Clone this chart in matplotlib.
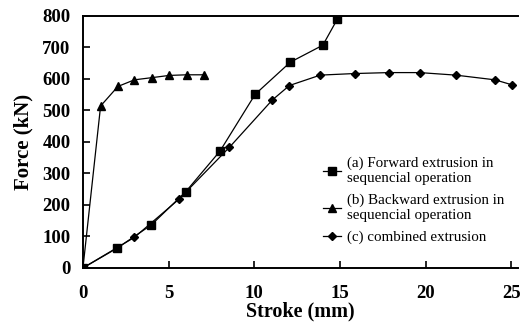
import matplotlib.pyplot as plt

plt.rcParams['font.family'] = ['Liberation Serif', 'DejaVu Serif']

# (a) forward extrusion in sequencial operation
fwd_x = [0, 2, 4, 6, 8, 10.05, 12.1, 14.0, 14.85]
fwd_y = [0, 63, 137, 242, 371, 551, 653, 707, 790]

# (b) backward extrusion in sequencial operation
bwd_x = [0, 1.03, 2.04, 3.0, 4.03, 5.03, 6.05, 7.06]
bwd_y = [0, 514, 576, 597, 604, 611, 613, 613]

# (c) combined extrusion
comb_x = [0, 3.0, 5.6, 8.55, 11.05, 12.05, 13.85, 15.85, 17.85, 19.65, 21.75, 24.05, 25.05]
comb_y = [0, 97, 218, 383, 533, 579, 612, 617, 620, 620, 612, 597, 581]

fig = plt.figure(figsize=(5.25, 3.24), dpi=100)
ax = fig.add_axes([0.158, 0.173, 0.829, 0.778])

ax.plot(fwd_x, fwd_y, color="black", lw=0.9, marker="s", ms=6,
        label="(a) Forward extrusion in\nsequencial operation")
ax.plot(bwd_x, bwd_y, color="black", lw=0.9, marker="^", ms=6,
        label="(b) Backward extrusion in\nsequencial operation")
ax.plot(comb_x, comb_y, color="black", lw=0.9, marker="D", ms=4.5,
        label="(c) combined extrusion")

ax.set_xlim(0, 25.4)
ax.set_ylim(0, 800)
ax.set_xticks([0, 5, 10, 15, 20, 25])
ax.set_yticks(range(0, 801, 100))
ax.tick_params(direction="in", length=5, width=1.2, labelsize=13.5)
ax.tick_params(axis="x", pad=12)
ax.tick_params(axis="y", pad=9)
for lbl in ax.get_xticklabels() + ax.get_yticklabels():
    lbl.set_fontweight("bold")
ax.spines["right"].set_visible(False)
for s in ["left", "bottom", "top"]:
    ax.spines[s].set_linewidth(1.4)

ax.set_xlabel("Stroke (mm)", fontsize=14.5, fontweight="bold", labelpad=0)
ax.set_ylabel("Force (kN)", fontsize=15, fontweight="bold", labelpad=6)

ax.legend(loc="upper left", bbox_to_anchor=(0.535, 0.47), frameon=False,
          fontsize=10.8, handlelength=1.2, handletextpad=0.4,
          labelspacing=0.55, borderpad=0)

fig.savefig("out.png", dpi=100)
